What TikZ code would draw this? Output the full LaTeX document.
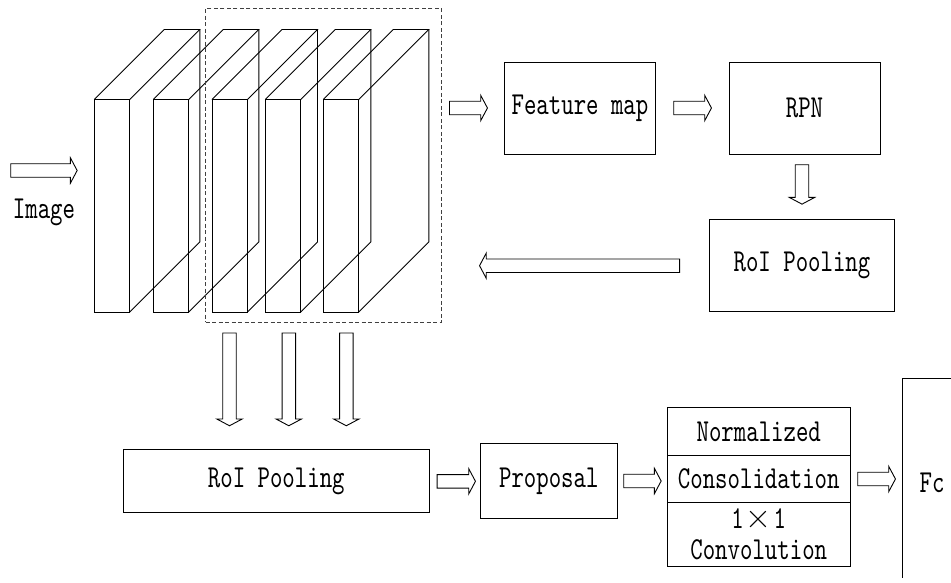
\documentclass[tikz,border=0pt]{standalone}
\usepackage{fontspec}
\newfontfamily\lblfamily[FakeStretch=0.74]{lmmono10-regular.otf}
\newcommand{\lbl}{\fontsize{32}{31}\selectfont\lblfamily}
\newcommand{\bigtimes}{{\rmfamily\fontsize{36}{31}\selectfont\smash{×}}}
\usetikzlibrary{shapes.arrows,calc}
\begin{document}
\begin{tikzpicture}[x=1pt,y=-1pt,
  every path/.style={line width=0.9pt},
  box/.style={draw, line width=0.9pt, inner sep=0pt, font=\lbl, align=center},
  lbltext/.style={inner sep=0pt, font=\lbl, align=center},
  harrow/.style={draw, line width=0.9pt, single arrow, inner xsep=0pt, inner ysep=6.3pt,
     single arrow head extend=5.9pt, single arrow tip angle=124,
     single arrow head indent=0pt, minimum width=1pt, anchor=tail},
  dashbox/.style={draw=black!75, line width=0.9pt, dash pattern=on 4pt off 2.5pt, inner sep=0pt}]
\useasboundingbox (0,0) rectangle (951,582);

% layers
\foreach \x in {94.3,153.3,212,265.3,323.3}{
  \draw (\x,99.5) rectangle (\x+35.5,312);
  \draw (\x,99.5) -- (\x+70,29.5) -- (\x+105.5,29.5) -- (\x+35.5,99.5);
  \draw (\x+105.5,29.5) -- (\x+105.5,242) -- (\x+35.5,312);
}
\node[dashbox, minimum width=236pt, minimum height=313.7pt] (dash) at (323.7,165.15) {};

% input
\node[harrow, minimum height=66.4pt] (ain) at (10.3,170.5) {};
\node[lbltext] (img) at (44,212) {Image};

% top row
\node[box, minimum width=151.4pt, minimum height=92pt] (fm) at (580,108.3) {Feature map};
\node[box, minimum width=151pt, minimum height=92pt] (rpn) at (804.5,108.3) {RPN};
\node[box, minimum width=185.4pt, minimum height=92.4pt] (roi1) at (802,265.5) {RoI Pooling};

\node[harrow, minimum height=38pt] (a1) at (449,108) {};
\node[harrow, minimum height=37.7pt] (a2) at (673.3,108) {};
\node[harrow, minimum height=39.4pt, rotate=-90] (a3) at (802,164.3) {};
\node[harrow, minimum height=200pt, rotate=180] (a4) at (680,265.7) {};

% down arrows
\foreach \x/\n in {229.5/d1,288.8/d2,346.3/d3}{
  \node[harrow, minimum height=92.8pt, rotate=-90] (\n) at (\x,332.5) {};
}

% bottom row
\node[box, minimum width=306pt, minimum height=63.4pt] (roi2) at (276.3,481) {RoI Pooling};
\node[box, minimum width=137pt, minimum height=75.4pt] (prop) at (548.8,481) {Proposal};
\node[box, minimum width=182.5pt, minimum height=47.3pt] (s1) at (758.75,431.35) {Normalized};
\node[box, minimum width=182.5pt, minimum height=47.3pt] (s2) at (758.75,478.65) {Consolidation};
\node[box, minimum width=182.5pt, minimum height=63.7pt] (s3) at (758.75,534.15) {1\kern2pt\bigtimes\kern2pt1\\[0pt]Convolution};

\node[harrow, minimum height=38.3pt] (b1) at (436.7,481.3) {};
\node[harrow, minimum height=37.4pt] (b2) at (623.3,481) {};
\node[harrow, minimum height=37.7pt] (b3) at (857.3,479) {};

% Fc
\coordinate (fcb) at (902,577.7);
\coordinate (fct) at (902,378.5);
\coordinate (fcr) at (951,378.5);
\draw (fcb) -- (fct) -- (fcr);
\node[lbltext] (fc) at (932,483) {Fc};
\end{tikzpicture}
\end{document}
